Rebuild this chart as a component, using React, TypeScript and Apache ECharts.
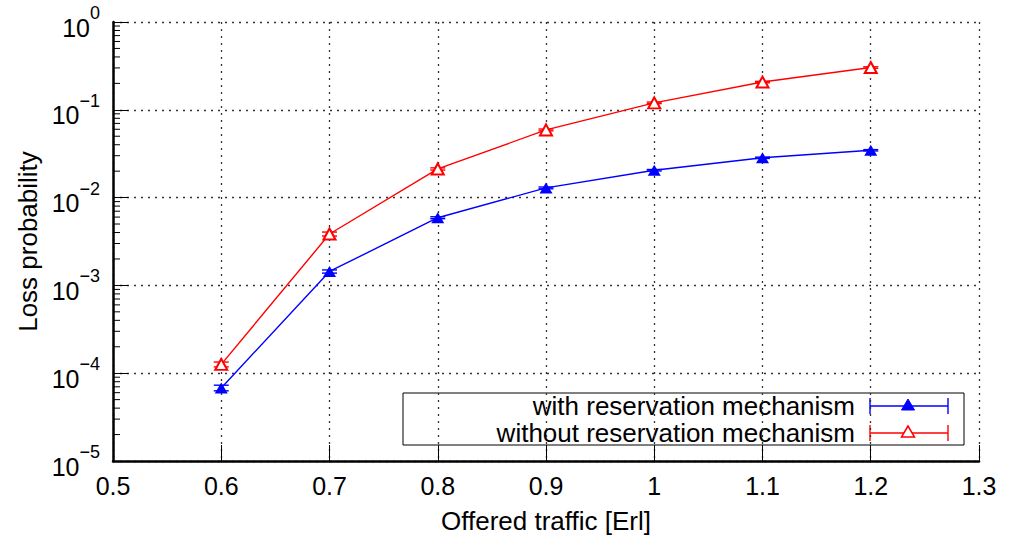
import React, { useEffect, useRef } from "react";
import * as echarts from "echarts";

const FONT = "'Liberation Sans', Arial, Helvetica, sans-serif";

const trafficX = [0.6, 0.7, 0.8, 0.9, 1.0, 1.1, 1.2];

const withRes = [6.8e-5, 1.44e-3, 5.9e-3, 0.0129, 0.0205, 0.0284, 0.0346];
const withLow = [6.3e-5, 1.38e-3, 5.75e-3, 0.0126, 0.0201, 0.0279, 0.034];
const withHigh = [7.3e-5, 1.5e-3, 6.05e-3, 0.0132, 0.0209, 0.0289, 0.0352];

const withoutRes = [1.26e-4, 3.85e-3, 0.0212, 0.059, 0.12, 0.207, 0.303];
const withoutLow = [1.18e-4, 3.65e-3, 0.0206, 0.0576, 0.1175, 0.203, 0.297];
const withoutHigh = [1.34e-4, 4.05e-3, 0.0218, 0.0604, 0.1225, 0.211, 0.309];

const xTicks = [0.5, 0.6, 0.7, 0.8, 0.9, 1.0, 1.1, 1.2, 1.3];
const yDecades = [-5, -4, -3, -2, -1, 0];
const minorMultipliers = [2, 3, 4, 5, 6, 7, 8, 9];

const legendLabels = ["with reservation mechanism", "without reservation mechanism"];

const BLUE = "#0000ff";
const RED = "#ff0000";

function errorBarSeries(name: string, color: string, vals: number[], lo: number[], hi: number[]) {
  return {
    name: name + " err",
    type: "custom",
    silent: true,
    z: 4,
    data: trafficX.map((x, i) => [x, vals[i], lo[i], hi[i]]),
    encode: { x: 0, y: 1 },
    renderItem: (params: any, api: any) => {
      const x = api.value(0);
      const pLo = api.coord([x, api.value(2)]);
      const pHi = api.coord([x, api.value(3)]);
      const w = 7.5;
      const st = { stroke: color, lineWidth: 1.4 };
      return {
        type: "group",
        children: [
          { type: "line", shape: { x1: pLo[0], y1: pLo[1], x2: pHi[0], y2: pHi[1] }, style: st },
          { type: "line", shape: { x1: pLo[0] - w, y1: pLo[1], x2: pLo[0] + w, y2: pLo[1] }, style: st },
          { type: "line", shape: { x1: pHi[0] - w, y1: pHi[1], x2: pHi[0] + w, y2: pHi[1] }, style: st },
        ],
      };
    },
  };
}

export default function App() {
  const ref = useRef<HTMLDivElement>(null);

  useEffect(() => {
    if (!ref.current) return;
    const chart = echarts.init(ref.current, null, { renderer: "svg" });

    const minorVals: number[] = [];
    yDecades.slice(0, -1).forEach((d) => {
      minorMultipliers.forEach((m) => minorVals.push(m * Math.pow(10, d)));
    });

    const dotted = { color: "#333", type: [2, 5] as any, width: 1.3 };

    const legendX = 403;
    const legendY = 393;
    const legendW = 561;
    const legendH = 52;
    const textRight = 855;
    const sampleL = 870;
    const sampleR = 948;
    const sampleMid = 908;
    const rows = [406, 433];
    const colors = [BLUE, RED];

    const legendChildren: any[] = [
      {
        type: "rect",
        shape: { x: legendX, y: legendY, width: legendW, height: legendH },
        style: { fill: "#fff", stroke: "#000", lineWidth: 1 },
      },
    ];
    rows.forEach((ry, i) => {
      const c = colors[i];
      legendChildren.push({
        type: "text",
        x: textRight,
        y: ry,
        style: {
          text: legendLabels[i],
          fill: "#000",
          font: `26px ${FONT}`,
          lineHeight: 26,
          align: "right",
          verticalAlign: "middle",
        },
      });
      const st = { stroke: c, lineWidth: 1.4 };
      legendChildren.push(
        { type: "line", shape: { x1: sampleL, y1: ry, x2: sampleR, y2: ry }, style: st },
        { type: "line", shape: { x1: sampleL, y1: ry - 8, x2: sampleL, y2: ry + 8 }, style: st },
        { type: "line", shape: { x1: sampleR, y1: ry - 8, x2: sampleR, y2: ry + 8 }, style: st },
        {
          type: "polygon",
          shape: {
            points: [
              [sampleMid, ry - 7],
              [sampleMid - 6.5, ry + 4],
              [sampleMid + 6.5, ry + 4],
            ],
          },
          style: i === 0 ? { fill: c, stroke: c, lineWidth: 1 } : { fill: "#fff", stroke: c, lineWidth: 1.5 },
        }
      );
    });

    const option: any = {
      animation: false,
      textStyle: { fontFamily: FONT },
      grid: { left: 113, right: 37, top: 22, bottom: 83, containLabel: false },
      xAxis: {
        type: "value",
        min: 0.5,
        max: 1.3,
        interval: 0.1,
        name: "Offered traffic [Erl]",
        nameLocation: "middle",
        nameGap: 47,
        nameTextStyle: { fontSize: 26, color: "#000", fontFamily: FONT },
        axisLine: { show: true, onZero: false, lineStyle: { color: "#000", width: 2.5 } },
        axisTick: { show: true, inside: true, length: 16, lineStyle: { color: "#000", width: 1 } },
        axisLabel: {
          margin: 12,
          fontSize: 25,
          color: "#000",
          fontFamily: FONT,
          formatter: (v: number) => {
            const t = xTicks.find((k) => Math.abs(k - v) < 1e-6);
            return String(+(t ?? v).toFixed(1));
          },
        },
        splitLine: { show: true, lineStyle: dotted },
      },
      yAxis: {
        type: "log",
        logBase: 10,
        min: 1e-5,
        max: 1,
        splitNumber: 5,
        name: "Loss probability",
        nameLocation: "middle",
        nameGap: 71,
        nameTextStyle: { fontSize: 26, color: "#000", fontFamily: FONT },
        axisLine: { show: true, onZero: false, lineStyle: { color: "#000", width: 2.5 } },
        axisTick: { show: true, inside: true, length: 15, lineStyle: { color: "#000", width: 1 } },
        axisLabel: {
          margin: 13,
          color: "#000",
          fontFamily: FONT,
          formatter: (v: number) => {
            const e = Math.round(Math.log10(v));
            const s = e < 0 ? "\u2212" + -e : String(e);
            return `{b|10}{s|${s}}`;
          },
          rich: {
            b: { fontSize: 25, lineHeight: 36, verticalAlign: "bottom", fontFamily: FONT, color: "#000" },
            s: { fontSize: 18, lineHeight: 18, verticalAlign: "top", fontFamily: FONT, color: "#000" },
          },
        },
        splitLine: { show: true, lineStyle: dotted },
      },
      series: [
        {
          name: "minor ticks",
          type: "custom",
          silent: true,
          z: 3,
          clip: false,
          data: minorVals.map((v) => [0.5, v]),
          encode: { x: 0, y: 1 },
          renderItem: (params: any, api: any) => {
            const p = api.coord([api.value(0), api.value(1)]);
            return {
              type: "line",
              shape: { x1: p[0], y1: p[1], x2: p[0] + 7, y2: p[1] },
              style: { stroke: "#000", lineWidth: 1 },
            };
          },
        },
        {
          name: legendLabels[0],
          type: "line",
          z: 5,
          data: trafficX.map((x, i) => [x, withRes[i]]),
          symbol: "triangle",
          symbolSize: [13, 11],
          lineStyle: { color: BLUE, width: 1.4 },
          itemStyle: { color: BLUE },
        },
        errorBarSeries(legendLabels[0], BLUE, withRes, withLow, withHigh),
        {
          name: legendLabels[1],
          type: "line",
          z: 5,
          data: trafficX.map((x, i) => [x, withoutRes[i]]),
          symbol: "emptyTriangle",
          symbolSize: [12, 11],
          lineStyle: { color: RED, width: 1.4 },
          itemStyle: { color: RED, borderColor: RED, borderWidth: 1.5 },
        },
        errorBarSeries(legendLabels[1], RED, withoutRes, withoutLow, withoutHigh),
      ],
      graphic: [{ type: "group", z: 100, children: legendChildren }],
    };

    chart.setOption(option);
    return () => chart.dispose();
  }, []);

  return (
    <div
      ref={ref}
      style={{ position: "fixed", left: 0, top: 0, width: 1016, height: 544, background: "#fff" }}
    />
  );
}
